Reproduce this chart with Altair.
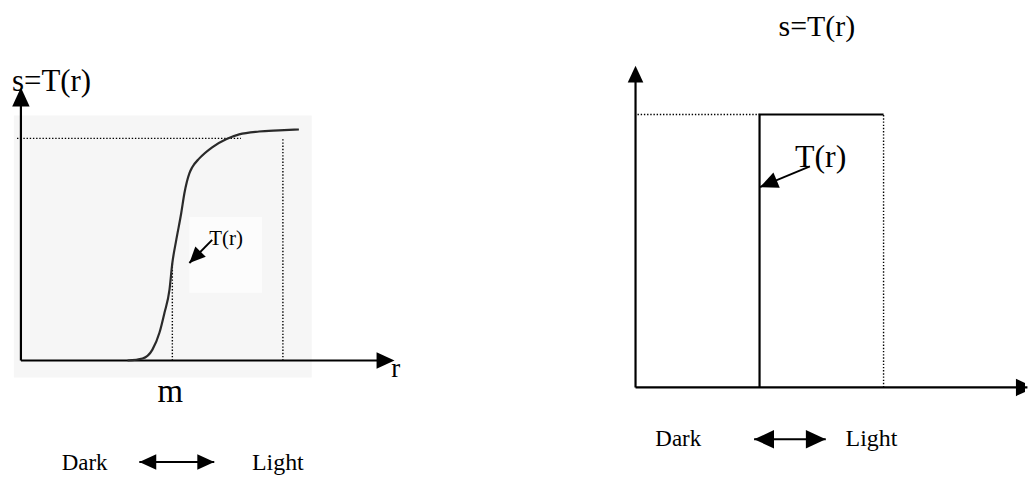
import math
import altair as alt
import pandas as pd

# ---------------------------------------------------------------
# Values, in normalized gray levels (0 = dark, 1 = light)
# ---------------------------------------------------------------
# Contrast-stretching function s = T(r)
curve_r = [0.407, 0.464, 0.502, 0.529, 0.548, 0.567, 0.578, 0.593, 0.612, 0.624,
           0.643, 0.654, 0.681, 0.730, 0.783, 0.833, 0.909, 0.985, 1.061]
curve_s = [0.000, 0.009, 0.049, 0.126, 0.215, 0.318, 0.439, 0.543, 0.664, 0.753,
           0.843, 0.870, 0.910, 0.960, 0.996, 1.018, 1.031, 1.036, 1.040]
m_level = 0.578        # midpoint m of the stretch
m_value = 0.439        # T(m)
max_level = 1.0        # L - 1

# Thresholding function
threshold = 0.5
step_r = [threshold, threshold, max_level]
step_s = [0.0, max_level, max_level]

# Axis extents (arrow tips)
left_axis_r, left_axis_s = 1.426, 1.229
right_axis_r, right_axis_s = 1.610, 1.179

FONT = "'Liberation Serif', 'Times New Roman', Times, serif"

# Panel geometry: size, pixel position of the origin, pixels per unit level
LEFT = dict(w=514, h=478, ox=21, oy=361, kx=263, ky=223)
RIGHT = dict(w=515, h=478, ox=124, oy=388, kx=249, ky=274)


def scales(g):
    xs = alt.Scale(domain=[-g["ox"] / g["kx"], (g["w"] - g["ox"]) / g["kx"]], nice=False, zero=False)
    ys = alt.Scale(domain=[(g["oy"] - g["h"]) / g["ky"], g["oy"] / g["ky"]], nice=False, zero=False)
    return xs, ys


def heading(g, r0, s0, r1, s1):
    # screen angle (clockwise from up) of the direction tail -> tip
    dx = (r1 - r0) * g["kx"]
    dy = -(s1 - s0) * g["ky"]
    return math.degrees(math.atan2(dx, -dy)) % 360


# arrowhead with its tip at the anchor point, pointing up before rotation
HEAD = "M0,0L0.46,1L-0.46,1Z"


def panel(g, rects, dotted, solid, line_df, shafts, heads, labels):
    xs, ys = scales(g)

    def X(f):
        return alt.X(f"{f}:Q", scale=xs, axis=None)

    def Y(f):
        return alt.Y(f"{f}:Q", scale=ys, axis=None)

    layers = []
    if rects is not None:
        layers.append(
            alt.Chart(rects).mark_rect(strokeWidth=0).encode(
                x=X("r0"), x2="r1", y=Y("s0"), y2="s1",
                color=alt.Color("fill:N", scale=None),
            )
        )
    layers.append(
        alt.Chart(dotted).mark_rule(color="#000", strokeWidth=1.4, strokeDash=[1.4, 1.8]).encode(
            x=X("r0"), x2="r1", y=Y("s0"), y2="s1"
        )
    )
    layers.append(
        alt.Chart(solid).mark_rule(color="#000", strokeWidth=2.2).encode(
            x=X("r0"), x2="r1", y=Y("s0"), y2="s1"
        )
    )
    layers.append(line_df)
    layers.append(
        alt.Chart(shafts).mark_rule(color="#000", strokeWidth=2).encode(
            x=X("r0"), x2="r1", y=Y("s0"), y2="s1"
        )
    )
    for al in ("left", "center"):
        layers.append(
            alt.Chart(labels).mark_text(font=FONT, baseline="alphabetic", align=al, color="#000").encode(
                x=X("r"), y=Y("s"), text="text:N",
                size=alt.Size("size:Q", scale=None),
            ).transform_filter(f"datum.align == '{al}'")
        )
    layers.append(
        alt.Chart(heads).mark_point(shape=HEAD, filled=True, opacity=1, color="#000",
                                    strokeWidth=0, clip=True).encode(
            x=X("r"), y=Y("s"),
            angle=alt.Angle("angle:Q", scale=None),
            size=alt.Size("size:Q", scale=None),
        )
    )
    return alt.layer(*layers).properties(width=g["w"], height=g["h"])


def head_size(length):
    # symbol area for an arrowhead of the given pixel length
    return (2 * length) ** 2


# ------------------------- left panel -------------------------
g = LEFT
left_rects = pd.DataFrame({
    "r0": [-0.027, 0.643], "r1": [1.110, 0.920],
    "s0": [-0.076, 0.305], "s1": [1.103, 0.646],
    "fill": ["#f6f6f6", "#fcfcfc"],
})
left_dotted = pd.DataFrame({
    "r0": [-0.015, m_level, max_level],
    "r1": [0.840, m_level, max_level],
    "s0": [max_level, 0.0, 0.0],
    "s1": [max_level, m_value, max_level],
})
left_solid = pd.DataFrame({
    "r0": [0.0, 0.0], "r1": [0.0, left_axis_r - 0.03],
    "s0": [0.0, 0.0], "s1": [left_axis_s - 0.04, 0.0],
})
xs_l, ys_l = scales(g)
left_curve = alt.Chart(pd.DataFrame({"r": curve_r, "s": curve_s})).mark_line(
    color="#2a2a2a", strokeWidth=2.2, interpolate="monotone"
).encode(x=alt.X("r:Q", scale=xs_l, axis=None), y=alt.Y("s:Q", scale=ys_l, axis=None))

tr_tail_l, tr_tip_l = (0.730, 0.543), (0.643, 0.439)
dl_l = (0.452, 0.738, -0.457)
left_shafts = pd.DataFrame({
    "r0": [tr_tail_l[0], dl_l[0]], "r1": [tr_tip_l[0], dl_l[1]],
    "s0": [tr_tail_l[1], dl_l[2]], "s1": [tr_tip_l[1], dl_l[2]],
})
left_heads = pd.DataFrame({
    "r": [0.0, left_axis_r, tr_tip_l[0], dl_l[0], dl_l[1]],
    "s": [left_axis_s, 0.0, tr_tip_l[1], dl_l[2], dl_l[2]],
    "angle": [0, 90, heading(g, *tr_tail_l, *tr_tip_l), 270, 90],
    "size": [head_size(19), head_size(18), head_size(16), head_size(17), head_size(17)],
})
left_labels = pd.DataFrame({
    "text": ["s=T(r)", "T(r)", "m", "r", "Dark", "Light"],
    "r": [-0.034, 0.719, 0.570, 1.414, 0.156, 0.882],
    "s": [1.215, 0.520, -0.188, -0.076, -0.493, -0.493],
    "size": [31, 21, 33, 27, 23, 24],
    "align": ["left", "left", "center", "left", "left", "left"],
})
left = panel(g, left_rects, left_dotted, left_solid, left_curve, left_shafts, left_heads, left_labels)

# ------------------------- right panel -------------------------
g = RIGHT
right_dotted = pd.DataFrame({
    "r0": [0.008, max_level], "r1": [threshold, max_level],
    "s0": [max_level, 0.0], "s1": [max_level, max_level],
})
right_solid = pd.DataFrame({
    "r0": [0.0, 0.0], "r1": [0.0, right_axis_r - 0.03],
    "s0": [0.0, 0.0], "s1": [right_axis_s - 0.03, 0.0],
})
xs_r, ys_r = scales(g)
right_step = alt.Chart(pd.DataFrame({"r": step_r, "s": step_s, "i": [0, 1, 2]})).mark_line(
    color="#000", strokeWidth=2.2
).encode(x=alt.X("r:Q", scale=xs_r, axis=None), y=alt.Y("s:Q", scale=ys_r, axis=None),
         order="i:Q")

tr_tail_r, tr_tip_r = (0.703, 0.810), (0.502, 0.734)
dl_r = (0.478, 0.767, -0.190)
right_shafts = pd.DataFrame({
    "r0": [tr_tail_r[0], dl_r[0]], "r1": [tr_tip_r[0], dl_r[1]],
    "s0": [tr_tail_r[1], dl_r[2]], "s1": [tr_tip_r[1], dl_r[2]],
})
right_heads = pd.DataFrame({
    "r": [0.0, right_axis_r, tr_tip_r[0], dl_r[0], dl_r[1]],
    "s": [right_axis_s, 0.0, tr_tip_r[1], dl_r[2], dl_r[2]],
    "angle": [0, 90, heading(g, *tr_tail_r, *tr_tip_r), 270, 90],
    "size": [head_size(17), head_size(19), head_size(18), head_size(20), head_size(20)],
})
right_labels = pd.DataFrame({
    "text": ["s=T(r)", "T(r)", "Dark", "Light"],
    "r": [0.731, 0.643, 0.080, 0.847],
    "s": [1.288, 0.807, -0.215, -0.215],
    "size": [30, 32, 23, 24],
    "align": ["center", "left", "left", "left"],
})
right = panel(g, None, right_dotted, right_solid, right_step, right_shafts, right_heads, right_labels)

chart = alt.hconcat(left, right, spacing=0).properties(
    padding=0, background="white"
).configure_view(stroke=None)

chart.save("out.html", embed_options={"renderer": "svg", "actions": False})
